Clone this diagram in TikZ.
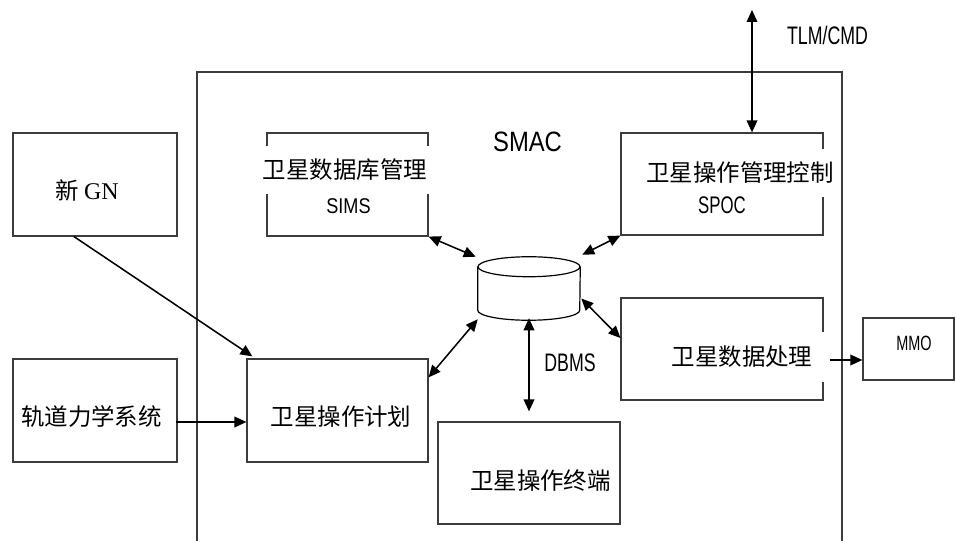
\documentclass[tikz,border=0pt]{standalone}
\usepackage{fontspec}
\newfontfamily\cjk{Noto Sans CJK SC}
\newfontfamily\narrowfont[FakeStretch=0.7]{Liberation Sans}
\newfontfamily\widefont[FakeStretch=0.85]{Liberation Sans}
\newfontfamily\serifont{Liberation Serif}
\usetikzlibrary{
  arrows.meta,
  calc,
  positioning,
}
\definecolor{edge}{HTML}{3C3C3C}
\tikzset{
  >={Triangle[length=9pt,width=8pt]},
  blk/.style={draw=edge, line width=0.9pt, minimum width=#1},
  blk/.default=123pt,
  lbl/.style={inner sep=1pt, font=\cjk\fontsize{17.6}{20}\selectfont},
  cover/.style={fill=white, inner xsep=#1, minimum height=36pt},
  cover/.default=8pt,
  link/.style={line width=1.15pt, black},
}

\begin{document}
\begin{tikzpicture}[x=0.75pt,y=-0.75pt]
  \useasboundingbox (0,0) rectangle (955,541);

  % SMAC frame
  \draw [draw=edge, line width=0.9pt] (197,72) rectangle (842,560);
  \node (smac) at (527.5,142) {\widefont\fontsize{21}{24}\selectfont SMAC};

  % boxes
  \node [blk, minimum height=77.25pt] (gn) at (95,184.5) {};
  \node [blk, minimum height=77.25pt] (orbit) at (95,410.5) {};
  \node [blk=135.75pt, minimum height=77.25pt] (plan) at (337.5,410.5) {};
  \node [blk=120.75pt, minimum height=77.25pt] (sims) at (347.5,184.5) {};
  \node [blk=151.5pt, minimum height=76.5pt] (spoc) at (722,184) {};
  \node [blk=151.5pt, minimum height=76.5pt] (proc) at (722,349) {};
  \node [blk=136.5pt, minimum height=76.5pt] (term) at (529,473) {};
  \node [blk=68.25pt, minimum height=46.5pt] (mmo) at (908.5,349) {};

  % database
  \node [minimum width=76.5pt, minimum height=32.25pt, inner sep=0pt] (db) at (529,288.5) {};
  \draw [line width=0.9pt, fill=white] (db.north west) -- (db.south west)
    arc [start angle=180, end angle=360, x radius=38.25pt, y radius=7.5pt]
    -- (db.north east);
  \draw [line width=0.9pt] (db.north) ellipse [x radius=38.25pt, y radius=7.5pt];

  % texts
  \node [lbl] (gn-txt) at (87,190) {\cjk 新 \serifont\fontsize{18}{20}\selectfont GN};
  \node [lbl] (orbit-txt) at (91.5,417) {轨道力学系统};
  \node [lbl] (plan-txt) at (341,417) {卫星操作计划};
  \node [lbl, cover=10pt] (sims-txt) at (345,170) {卫星数据库管理};
  \node (sims-id) at (348.5,206) {\widefont\fontsize{16}{18}\selectfont SIMS};
  \node [lbl, cover=5pt] (spoc-txt) at (740,173) {卫星操作管理控制};
  \node (spoc-id) at (722,205) {\narrowfont\fontsize{18}{20}\selectfont SPOC};
  \node [lbl, cover=20pt, minimum height=37pt] (proc-txt) at (742,357) {卫星数据处理};
  \node (mmo-txt) at (914,343) {\narrowfont\fontsize{15.5}{18}\selectfont MMO};
  \node [lbl] (term-txt) at (540.5,481) {卫星操作终端};
  \node (dbms) at (570,363) {\narrowfont\fontsize{19}{20}\selectfont DBMS};
  \node (tlm) at (827.5,35) {\narrowfont\fontsize{19}{20}\selectfont TLM/CMD};
  \coordinate (ext) at (752,10);

  % connectors
  \draw [link, <->] (sims.south east) -- ($(db.north west)+(-2,-10)$);
  \draw [link, <->] (spoc.south west) -- ($(db.north east)+(2,-12)$);
  \draw [link, <->] ($(db.south west)+(0,9)$) -- ($(plan.north east)+(0,19)$);
  \draw [link, <->] ($(db.east)+(1,10)$) -- ($(proc.west)+(0,-11)$);
  \draw [link, <->] ($(db.south)+(0,8)$) -- ($(term.north)+(0,-10)$);
  \draw [link, <->] (ext) -- ($(spoc.north)+(30,0)$);
  \draw [link, ->] ($(gn.south)+(-21,0)$) -- ($(plan.north west)+(6,-2)$);
  \draw [link, ->] ($(orbit.east)+(-2,11.5)$) -- ($(plan.west)+(0,11.5)$);
  \draw [link, ->] ($(proc.east)+(6,11)$) -- ($(mmo.west)+(0,11)$);
\end{tikzpicture}
\end{document}
